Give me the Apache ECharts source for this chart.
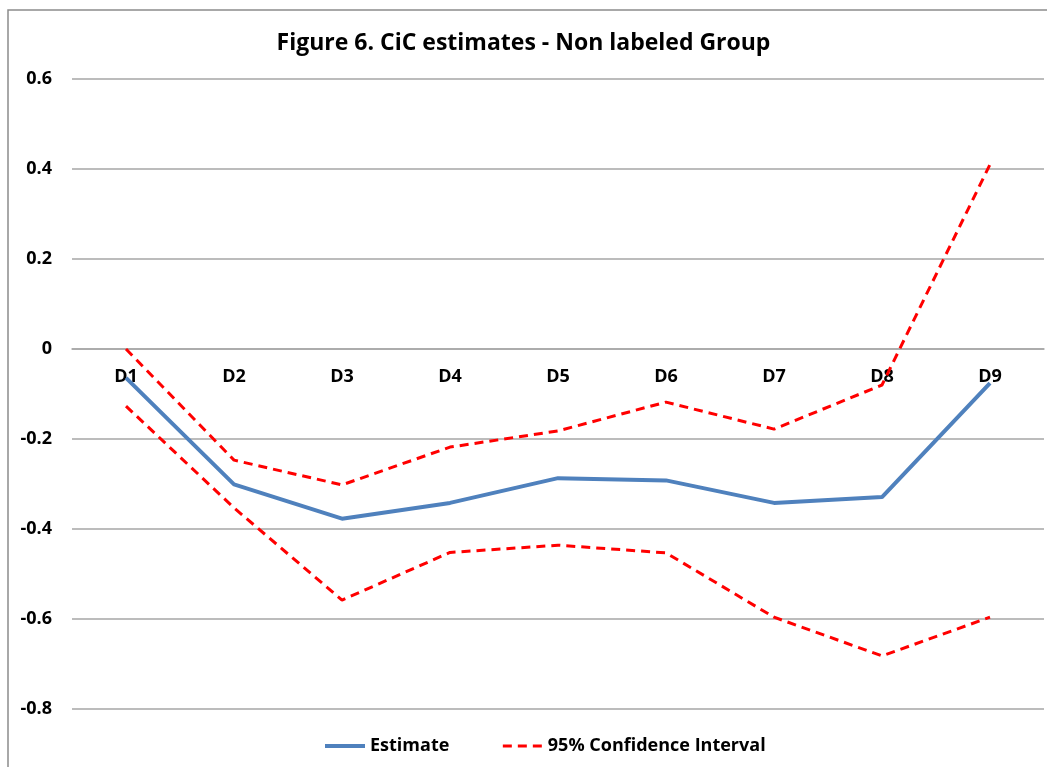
<!DOCTYPE html>
<html>
<head>
<meta charset="utf-8">
<script src="https://cdn.jsdelivr.net/npm/echarts@6/dist/echarts.min.js"></script>
<style>
  html, body { margin: 0; padding: 0; background: #fff; }
  #chart { width: 1047px; height: 767px; }
</style>
</head>
<body>
<div id="chart"></div>
<script>
  // categories and values
  const categories = ['D1', 'D2', 'D3', 'D4', 'D5', 'D6', 'D7', 'D8', 'D9']
  const estimate = [-0.064, -0.301, -0.377, -0.342, -0.287, -0.292, -0.342, -0.329, -0.076]
  const upperCI = [0.0, -0.247, -0.302, -0.218, -0.182, -0.118, -0.178, -0.080, 0.410]
  const lowerCI = [-0.127, -0.353, -0.558, -0.452, -0.436, -0.453, -0.596, -0.682, -0.596]

  const chart = echarts.init(document.getElementById('chart'))
  const font = '"Open Sans", Lato, sans-serif'

  chart.setOption({
    animation: false,
    backgroundColor: '#fff',
    title: {
      text: 'Figure 6. CiC estimates - Non labeled Group',
      left: 'center',
      top: 27,
      textStyle: { fontFamily: font, fontSize: 23, fontWeight: 'bold', color: '#000' }
    },
    // outer chart frame
    graphic: [{
      type: 'rect',
      shape: { x: 8, y: 10, width: 1060, height: 800 },
      style: { fill: 'none', stroke: '#8c8c8c', lineWidth: 1.5 },
      silent: true
    }],
    legend: {
      bottom: 7,
      left: 318,
      itemGap: 52,
      itemWidth: 40,
      itemHeight: 14,
      itemStyle: { opacity: 0 },
      textStyle: { fontFamily: font, fontSize: 18, fontWeight: 'bold', color: '#000' },
      data: [
        { name: 'Estimate', lineStyle: { width: 4 } },
        { name: '95% Confidence Interval', lineStyle: { width: 3 } }
      ]
    },
    grid: { left: 72, right: 3, top: 79, bottom: 58 },
    xAxis: {
      type: 'category',
      data: categories,
      boundaryGap: true,
      position: 'bottom',
      offset: -360,
      axisLine: { onZero: false, lineStyle: { color: '#a6a6a6', width: 1.5 } },
      axisTick: { show: false },
      axisLabel: { margin: 19, fontFamily: font, fontSize: 18, fontWeight: 'bold', color: '#000' },
      z: 0
    },
    yAxis: {
      type: 'value',
      min: -0.8,
      max: 0.6,
      interval: 0.2,
      axisLine: { show: false },
      axisTick: { show: false },
      splitLine: { lineStyle: { color: '#a6a6a6', width: 1.5 } },
      axisLabel: {
        margin: 20,
        fontFamily: font, fontSize: 18, fontWeight: 'bold', color: '#000',
        formatter: v => String(Math.round(v * 10) / 10)
      }
    },
    series: [
      {
        name: 'Estimate',
        type: 'line',
        data: estimate,
        symbol: 'none',
        lineStyle: { color: '#4f81bd', width: 4 },
        itemStyle: { color: '#4f81bd' },
        z: 3
      },
      {
        name: '95% Confidence Interval',
        type: 'line',
        data: upperCI,
        symbol: 'none',
        lineStyle: { color: '#ff0000', width: 3, type: [9, 6] },
        itemStyle: { color: '#ff0000' },
        z: 2
      },
      {
        name: '95% Confidence Interval',
        type: 'line',
        data: lowerCI,
        symbol: 'none',
        lineStyle: { color: '#ff0000', width: 3, type: [9, 6] },
        itemStyle: { color: '#ff0000' },
        z: 2
      }
    ]
  })
</script>
</body>
</html>
